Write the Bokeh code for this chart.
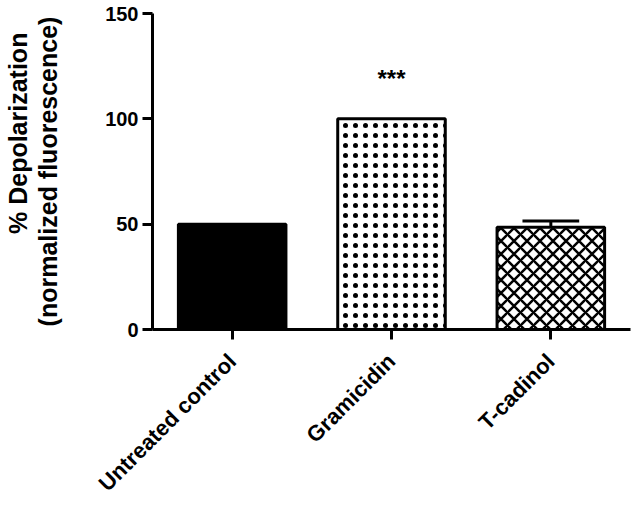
import math
from bokeh.plotting import figure
from bokeh.models import ColumnDataSource, Range1d, FixedTicker, LinearAxis
from bokeh.core.properties import value
from bokeh.embed import file_html
from bokeh.resources import INLINE

categories = ["Untreated control", "Gramicidin", "T-cadinol"]
means = [50, 100, 48.5]
errors = [0, 0, 3]
y_ticks = [0, 50, 100, 150]
significance = ["", "***", ""]
signif_y = [0, 119, 0]
y_title_lines = ["% Depolarization", "(normalized fluorescence)"]

fills = ["black", "white", "white"]
hatches = [" ", "dot", "diagonal_cross"]
hatch_scales = [8, 10, 13]
hatch_weights = [1, 1.8, 2.5]

xs = [i + 0.5 for i in range(len(categories))]
FONT = "Liberation Sans"

p = figure(width=632, height=507, output_backend="svg", toolbar_location=None,
           x_range=Range1d(0, 3), y_range=Range1d(0, 150),
           min_border_left=150, min_border_right=2, min_border_top=13, min_border_bottom=177)
p.outline_line_color = None
p.grid.visible = False
p.background_fill_color = "white"

src = ColumnDataSource(dict(x=xs, top=means, fill=fills, hatch=hatches,
                            hs=hatch_scales, hw=hatch_weights))
p.vbar(x="x", top="top", bottom=0, width=0.675, source=src,
       fill_color="fill", line_color="black", line_width=3,
       hatch_pattern="hatch", hatch_scale="hs", hatch_weight="hw", hatch_color="black")

ex = [x for x, e in zip(xs, errors) if e > 0]
elo = [m for m, e in zip(means, errors) if e > 0]
ehi = [m + e for m, e in zip(means, errors) if e > 0]
p.segment(x0=ex, y0=elo, x1=ex, y1=ehi, line_color="black", line_width=3)
p.segment(x0=[x - 0.178 for x in ex], y0=ehi, x1=[x + 0.178 for x in ex], y1=ehi,
          line_color="black", line_width=3)

sx = [x for x, s in zip(xs, significance) if s]
sy = [y for y, s in zip(signif_y, significance) if s]
st = [s for s in significance if s]
p.text(x=sx, y=sy, text=st, text_font=value(FONT), text_font_style="bold",
       text_font_size="24px", text_align="center", text_baseline="middle", text_color="black")

# axes
for ax in (p.xaxis[0], p.yaxis[0]):
    ax.axis_line_width = 3
    ax.axis_line_color = "black"
    ax.major_tick_line_width = 3
    ax.major_tick_line_color = "black"
    ax.major_tick_out = 10
    ax.major_tick_in = 0
    ax.minor_tick_line_color = None
    ax.major_label_text_font = FONT
    ax.major_label_text_font_style = "bold"
    ax.major_label_text_color = "black"

p.yaxis.ticker = FixedTicker(ticks=y_ticks)
p.yaxis.major_label_text_font_size = "20px"
p.yaxis.major_label_standoff = 4
p.yaxis.axis_label = y_title_lines[1]
p.yaxis.axis_label_text_font = FONT
p.yaxis.axis_label_text_font_style = "bold"
p.yaxis.axis_label_text_font_size = "25px"
p.yaxis.axis_label_text_color = "black"
p.yaxis.axis_label_standoff = 40

outer = LinearAxis(ticker=FixedTicker(ticks=[]), axis_line_color=None,
                   major_tick_line_color=None, minor_tick_line_color=None,
                   major_tick_out=0, major_tick_in=0, minor_tick_out=0, minor_tick_in=0,
                   major_label_standoff=0,
                   axis_label="\u00a0" * 11 + y_title_lines[0], axis_label_standoff=0,
                   axis_label_text_font=FONT, axis_label_text_font_style="bold",
                   axis_label_text_font_size="25px", axis_label_text_color="black")
p.add_layout(outer, "left")

p.xaxis.ticker = FixedTicker(ticks=xs)
p.xaxis.major_label_overrides = {x: c for x, c in zip(xs, categories)}
p.xaxis.major_label_orientation = math.pi / 4
p.xaxis.major_label_text_font_size = "22px"
p.xaxis.major_label_standoff = 18

open("out.html", "w").write(file_html(p, INLINE))
